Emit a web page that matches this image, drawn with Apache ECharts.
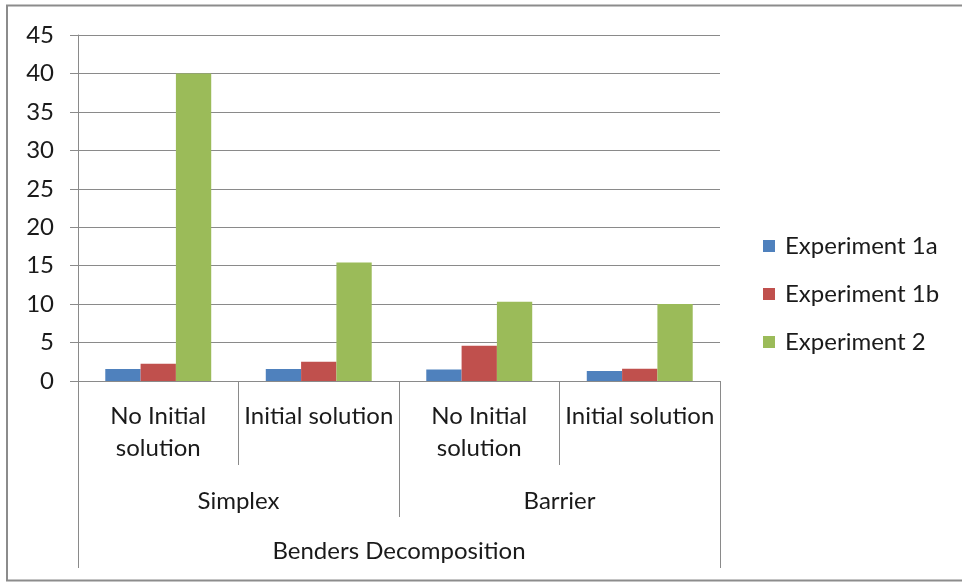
<!DOCTYPE html>
<html>
<head>
<meta charset="utf-8">
<script src="https://cdn.jsdelivr.net/npm/echarts@6/dist/echarts.min.js"></script>
<style>
  html, body { margin: 0; padding: 0; background: #fff; }
  #chart { width: 962px; height: 582px; }
</style>
</head>
<body>
<div id="chart"></div>
<script>
// Category levels, innermost first
const subCategories = ['No Initial\nsolution', 'Initial solution', 'No Initial\nsolution', 'Initial solution'];
const solverCategories = ['Simplex', 'Barrier'];
const methodCategories = ['Benders Decomposition'];

// Series values
const seriesNames = ['Experiment 1a', 'Experiment 1b', 'Experiment 2'];
const experiment1a = [1.55, 1.55, 1.5, 1.3];
const experiment1b = [2.25, 2.5, 4.6, 1.6];
const experiment2 = [40, 15.4, 10.3, 10.0];

// Value axis
const yMin = 0;
const yMax = 45;
const yStep = 5;

const FONT = 'Lato, "Open Sans", sans-serif';
const FS = 24;
const TEXT = '#1a1a1a';
const GRID = '#8a8a8a';
const COLORS = ['#4F81BD', '#C0504D', '#9BBB59'];

const chart = echarts.init(document.getElementById('chart'));

function levelAxis(data, offset, tickLen, margin) {
  return {
    type: 'category',
    data: data,
    position: 'bottom',
    offset: offset,
    axisLine: { show: offset === 0, lineStyle: { color: GRID, width: 1 } },
    axisTick: { show: true, length: tickLen, interval: 0, alignWithLabel: false,
                lineStyle: { color: GRID, width: 1 } },
    axisLabel: { interval: 0, margin: margin, fontFamily: FONT, fontSize: FS,
                 lineHeight: 32, color: TEXT },
    splitLine: { show: false }
  };
}

chart.setOption({
  animation: false,
  backgroundColor: '#fff',
  color: COLORS,
  graphic: [{
    type: 'rect',
    shape: { x: 7, y: 5.5, width: 1000, height: 575 },
    style: { fill: 'none', stroke: '#8c8c8c', lineWidth: 2 },
    silent: true
  }],
  grid: { left: 78, top: 35, width: 642, height: 346, containLabel: false },
  legend: {
    orient: 'vertical',
    left: 763,
    top: 234,
    padding: 0,
    itemWidth: 12,
    itemHeight: 12,
    itemGap: 24,
    icon: 'rect',
    textStyle: { fontFamily: FONT, fontSize: FS, color: TEXT, lineHeight: 24, padding: [0, 0, 0, 5] },
    data: seriesNames
  },
  xAxis: [
    levelAxis(subCategories, 0, 84, 19),
    levelAxis(solverCategories, 84, 52, 20),
    levelAxis(methodCategories, 136, 51, 18)
  ],
  yAxis: {
    type: 'value',
    min: yMin,
    max: yMax,
    interval: yStep,
    axisLine: { show: true, lineStyle: { color: GRID, width: 1 } },
    axisTick: { show: true, length: 8, lineStyle: { color: GRID } },
    axisLabel: { fontFamily: FONT, fontSize: FS, color: TEXT, margin: 24 },
    splitLine: { show: true, lineStyle: { color: GRID, width: 1 } }
  },
  series: [
    { name: seriesNames[0], type: 'bar', xAxisIndex: 0, data: experiment1a,
      barGap: '0%', barCategoryGap: '34%' },
    { name: seriesNames[1], type: 'bar', xAxisIndex: 0, data: experiment1b,
      barGap: '0%', barCategoryGap: '34%' },
    { name: seriesNames[2], type: 'bar', xAxisIndex: 0, data: experiment2,
      barGap: '0%', barCategoryGap: '34%' }
  ]
});
</script>
</body>
</html>
